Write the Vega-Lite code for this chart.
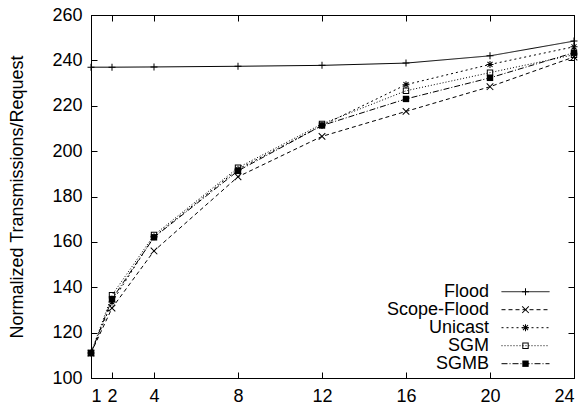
{
  "$schema": "https://vega.github.io/schema/vega-lite/v6.json",
  "width": 483,
  "height": 363,
  "autosize": {"type": "none"},
  "padding": {"left": 91, "top": 15, "right": 11, "bottom": 31},
  "background": "white",
  "config": {
    "view": {"stroke": "black", "strokeWidth": 1},
    "font": "Liberation Sans",
    "axis": {
      "grid": false,
      "domainColor": "black",
      "domainWidth": 1,
      "tickColor": "black",
      "tickWidth": 1,
      "tickSize": -6,
      "labelFont": "Liberation Sans",
      "labelFontSize": 18,
      "labelColor": "black",
      "titleFont": "Liberation Sans",
      "titleFontSize": 18,
      "titleFontWeight": "normal",
      "titleColor": "black"
    }
  },
  "data": {
    "values": [
      {"x": 1, "series": "Flood", "v": 237.0},
      {"x": 2, "series": "Flood", "v": 237.0},
      {"x": 4, "series": "Flood", "v": 237.1},
      {"x": 8, "series": "Flood", "v": 237.4},
      {"x": 12, "series": "Flood", "v": 237.8},
      {"x": 16, "series": "Flood", "v": 238.8},
      {"x": 20, "series": "Flood", "v": 242.0},
      {"x": 24, "series": "Flood", "v": 248.5},
      {"x": 1, "series": "Scope-Flood", "v": 111.0},
      {"x": 2, "series": "Scope-Flood", "v": 130.8},
      {"x": 4, "series": "Scope-Flood", "v": 156.0},
      {"x": 8, "series": "Scope-Flood", "v": 188.7},
      {"x": 12, "series": "Scope-Flood", "v": 206.5},
      {"x": 16, "series": "Scope-Flood", "v": 217.5},
      {"x": 20, "series": "Scope-Flood", "v": 228.4},
      {"x": 24, "series": "Scope-Flood", "v": 241.5},
      {"x": 1, "series": "Unicast", "v": 111.0},
      {"x": 2, "series": "Unicast", "v": 133.5},
      {"x": 4, "series": "Unicast", "v": 162.3},
      {"x": 8, "series": "Unicast", "v": 192.0},
      {"x": 12, "series": "Unicast", "v": 211.3},
      {"x": 16, "series": "Unicast", "v": 229.3},
      {"x": 20, "series": "Unicast", "v": 238.2},
      {"x": 24, "series": "Unicast", "v": 246.0},
      {"x": 1, "series": "SGM", "v": 111.0},
      {"x": 2, "series": "SGM", "v": 136.5},
      {"x": 4, "series": "SGM", "v": 163.0},
      {"x": 8, "series": "SGM", "v": 192.7},
      {"x": 12, "series": "SGM", "v": 212.0},
      {"x": 16, "series": "SGM", "v": 226.6},
      {"x": 20, "series": "SGM", "v": 234.6},
      {"x": 24, "series": "SGM", "v": 242.5},
      {"x": 1, "series": "SGMB", "v": 111.0},
      {"x": 2, "series": "SGMB", "v": 134.8},
      {"x": 4, "series": "SGMB", "v": 162.0},
      {"x": 8, "series": "SGMB", "v": 191.3},
      {"x": 12, "series": "SGMB", "v": 211.3},
      {"x": 16, "series": "SGMB", "v": 223.0},
      {"x": 20, "series": "SGMB", "v": 232.3},
      {"x": 24, "series": "SGMB", "v": 243.4}
    ]
  },
  "resolve": {
    "axis": {"x": "independent", "y": "independent"},
    "legend": {"strokeDash": "independent", "shape": "independent"}
  },
  "layer": [
    {
      "mark": {"type": "line", "color": "black", "strokeWidth": 1},
      "encoding": {
        "x": {
          "field": "x", "type": "quantitative",
          "scale": {"domain": [1, 24], "nice": false, "zero": false},
          "axis": {"orient": "bottom", "values": [1, 2, 4, 8, 12, 16, 20, 24], "title": null, "labelPadding": 15}
        },
        "y": {
          "field": "v", "type": "quantitative",
          "scale": {"domain": [100, 260], "nice": false, "zero": false},
          "axis": {"orient": "left", "values": [100, 120, 140, 160, 180, 200, 220, 240, 260], "title": "Normalized Transmissions/Request", "labelPadding": 15, "titlePadding": 25}
        },
        "strokeDash": {
          "field": "series", "type": "nominal",
          "scale": {
            "domain": ["Flood", "Scope-Flood", "Unicast", "SGM", "SGMB"],
            "range": [[1, 0], [4, 3], [2, 3], [1, 2], [6, 2, 1, 2]]
          },
          "legend": {
            "orient": "none", "legendX": 425.5, "legendY": 267.7, "title": null,
            "symbolType": "M-4,0H4", "symbolSize": 144, "symbolStrokeColor": "black", "symbolStrokeWidth": 1,
            "rowPadding": 0, "padding": 0,
            "labelAlign": "right", "labelOffset": -45.5, "labelFontSize": 18, "labelFont": "Liberation Sans",
            "labelColor": "black", "labelLimit": 0
          }
        }
      }
    },
    {
      "mark": {"type": "point", "filled": true, "fill": "black", "strokeWidth": 0, "opacity": 1, "size": 144},
      "encoding": {
        "x": {
          "field": "x", "type": "quantitative",
          "axis": {"orient": "top", "values": [1, 2, 4, 8, 12, 16, 20, 24], "labels": false, "title": null}
        },
        "y": {
          "field": "v", "type": "quantitative",
          "axis": {"orient": "right", "values": [100, 120, 140, 160, 180, 200, 220, 240, 260], "labels": false, "title": null}
        },
        "shape": {
          "field": "series", "type": "nominal",
          "scale": {
            "domain": ["Flood", "Scope-Flood", "Unicast", "SGM", "SGMB"],
            "range": [
              "M-0.583,-0.083H-0.083V-0.583H0.083V-0.083H0.583V0.083H0.083V0.583H-0.083V0.083H-0.583Z",
              "M-0.609,-0.491L-0.491,-0.609L0.609,0.491L0.491,0.609ZM-0.609,0.491L0.491,-0.609L0.609,-0.491L-0.491,0.609Z",
              "M-0.583,-0.083H-0.083V-0.583H0.083V-0.083H0.583V0.083H0.083V0.583H-0.083V0.083H-0.583ZM-0.479,-0.361L-0.361,-0.479L0.479,0.361L0.361,0.479ZM-0.479,0.361L0.361,-0.479L0.479,-0.361L-0.361,0.479Z",
              "M-0.533,-0.533H0.533V0.533H-0.533ZM-0.367,-0.367V0.367H0.367V-0.367Z",
              "M-0.533,-0.533H0.533V0.533H-0.533Z"
            ]
          },
          "legend": {
            "orient": "none", "legendX": 425.5, "legendY": 267.7, "title": null,
            "symbolSize": 144, "symbolFillColor": "black", "symbolStrokeColor": "transparent", "symbolStrokeWidth": 1,
            "rowPadding": 0, "padding": 0,
            "labelAlign": "right", "labelOffset": -45.5, "labelFontSize": 18, "labelFont": "Liberation Sans",
            "labelOpacity": 0, "labelLimit": 0
          }
        }
      }
    }
  ]
}
